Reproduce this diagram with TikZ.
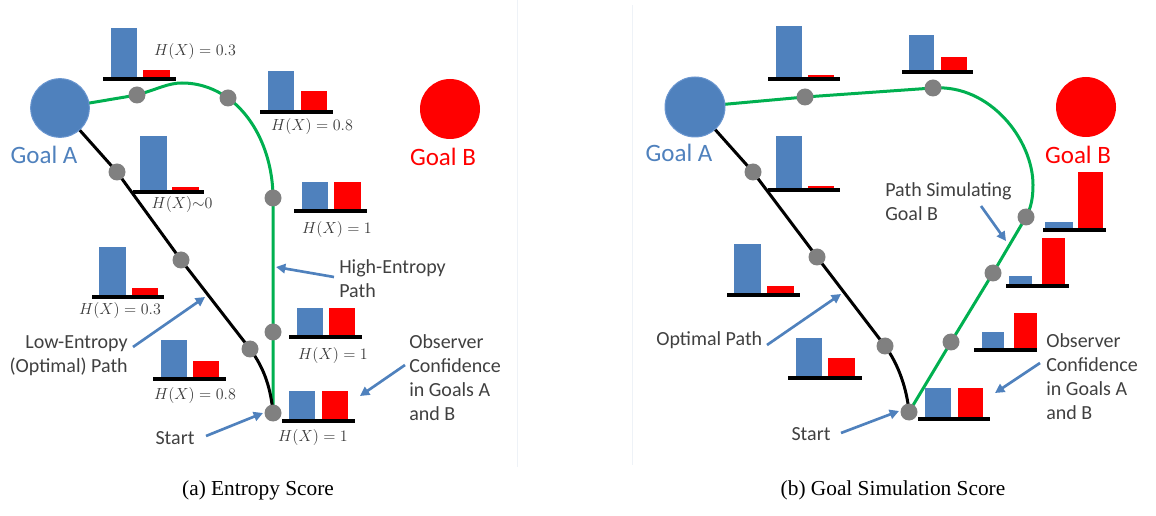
\documentclass[tikz,border=0pt]{standalone}
\usepackage{fontspec}
\setmainfont{Carlito}
\newfontfamily\capfont{Liberation Serif}
\usetikzlibrary{arrows.meta}
\definecolor{oblue}{HTML}{4F81BD}
\definecolor{oblueedge}{HTML}{6A96D0}
\definecolor{ored}{HTML}{FF0000}
\definecolor{ogreen}{HTML}{00B050}
\definecolor{ogray}{HTML}{808080}
\definecolor{otext}{HTML}{404040}
\definecolor{sepline}{HTML}{EEF2F7}
\pgfdeclarelayer{bg}
\pgfsetlayers{bg,main}
\newcommand\barsAt[9]{%
  \fill[oblue] (#4,#3) rectangle (#5,#6);
  \fill[ored] (#7,#3) rectangle (#8,#9);
  \draw[line width=2.5pt] (#1,#3) -- (#2,#3);}
\begin{document}
\begin{tikzpicture}[x=0.75pt,y=-0.75pt,
  goal/.style={circle,inner sep=0,minimum size=44pt},
  dot/.style={circle,fill=ogray,inner sep=0,minimum size=12.75pt},
  lbl/.style={font=\fontsize{15}{18}\selectfont,text=otext,inner sep=0},
  hx/.style={font=\fontsize{13}{15}\selectfont,text=black!78,inner sep=0},
  glbl/.style={font=\fontsize{18.75}{22}\selectfont,inner sep=0},
  arr/.style={draw=oblue,line width=2pt,-{Triangle[length=7pt,width=7pt]}},
  gpath/.style={draw=ogreen,line width=2.25pt},
  bpath/.style={draw=black,line width=2.25pt},
  captext/.style={font=\capfont\fontsize{16}{19}\selectfont,inner sep=0}]
\useasboundingbox (0,0) rectangle (1156,516);
% faint panel borders
\draw[sepline,line width=0.75pt] (517,0) -- (517,467);
\draw[sepline,line width=0.75pt] (632,5) -- (632,465);

% ===================== panel (a) =====================
\node[goal,fill=oblue,draw=oblueedge,line width=0.75pt] (gAa) at (60,108) {};
\node[goal,fill=ored,minimum size=45pt] (gBa) at (450,109) {};
\node[glbl,text=oblue] (tAa) at (44,155) {Goal A};
\node[glbl,text=ored] (tBa) at (443,157) {Goal B};

\coordinate (a1) at (137,95);
\coordinate (a2) at (228,98);
\coordinate (a3) at (273,198);
\coordinate (a4) at (273,332);
\coordinate (sa) at (273,413);
\coordinate (b1) at (117,172);
\coordinate (b2) at (181,260);
\coordinate (b3) at (250,349);

\begin{pgfonlayer}{bg}
\draw[gpath] (gAa.center) -- (a1) .. controls (158,89) and (168,83) .. (182,83)
  .. controls (200,83) and (215,89) .. (a2)
  .. controls (258,120) and (273,160) .. (a3) -- (a4) -- (sa);
\draw[bpath] (gAa.center) -- (b1) -- (b2) -- (b3)
  .. controls (265,369) and (271,390) .. (sa);
\end{pgfonlayer}

\foreach \p in {a1,a2,a3,a4,sa,b1,b2,b3}{\node[dot] (d\p) at (\p) {};}

\barsAt{103}{176}{79}{111}{137}{28}{143}{170}{70}
\barsAt{260}{333}{112}{268}{294}{71}{301}{327}{91}
\barsAt{294}{367}{211}{302}{328}{182}{334}{361}{182}
\barsAt{289}{362}{337}{297}{323}{308}{329}{355}{308}
\barsAt{282}{355}{421}{289}{315}{391}{322}{348}{391}
\barsAt{133}{204}{192}{140}{167}{136}{172}{199}{187}
\barsAt{92}{164}{297}{99}{126}{247}{132}{158}{288}
\barsAt{153}{226}{379}{161}{187}{340}{193}{219}{361}

\node[hx] (h1) at (195,52) {$H(X)=0.3$};
\node[hx] (h2) at (312,127) {$H(X)=0.8$};
\node[hx] (h3) at (337,230) {$H(X)=1$};
\node[hx] (h4) at (333,355) {$H(X)=1$};
\node[hx] (h5) at (313,437) {$H(X)=1$};
\node[hx] (h6) at (182,205) {$H(X){\sim}0$};
\node[hx] (h7) at (120,311) {$H(X)=0.3$};
\node[hx] (h8) at (195,395) {$H(X)=0.8$};

\node[lbl,anchor=west,align=left] (high) at (339,279) {High-Entropy\\Path};
\node[lbl,anchor=west,align=left] (obsa) at (409,378) {Observer\\Confidence\\in Goals A\\and B};
\node[lbl,anchor=east,align=right] (low) at (128,356) {Low-Entropy\\(Optimal) Path};
\node[lbl] (starta) at (175,438) {Start};

\coordinate (highS) at (334,277); \coordinate (highE) at (276,267);
\coordinate (obsaS) at (405,365); \coordinate (obsaE) at (360,396);
\coordinate (lowS) at (133,347);  \coordinate (lowE) at (205,297);
\coordinate (staS) at (206,436);  \coordinate (staE) at (263,413);
\draw[arr] (highS) -- (highE);
\draw[arr] (obsaS) -- (obsaE);
\draw[arr] (lowS) -- (lowE);
\draw[arr] (staS) -- (staE);

\node[captext] (capa) at (258,490) {(a) Entropy Score};

% ===================== panel (b) =====================
\node[goal,fill=oblue,draw=oblueedge,line width=0.75pt,minimum size=45pt] (gAb) at (695,107) {};
\node[goal,fill=ored,minimum size=45pt] (gBb) at (1086,107) {};
\node[glbl,text=oblue] (tAb) at (679,153) {Goal A};
\node[glbl,text=ored] (tBb) at (1078,155) {Goal B};

\coordinate (c1) at (805,97);
\coordinate (c2) at (933,88);
\coordinate (c3) at (1026,217);
\coordinate (c4) at (993,273);
\coordinate (c5) at (951,342);
\coordinate (sb) at (909,412);
\coordinate (e1) at (753,172);
\coordinate (e2) at (817,257);
\coordinate (e3) at (885,346);

\begin{pgfonlayer}{bg}
\draw[gpath] (gAb.center) -- (c1) -- (c2)
  .. controls (990,84) and (1033,140) .. (1033,185)
  .. controls (1033,198) and (1031,208) .. (c3) -- (c4) -- (c5) -- (sb);
\draw[bpath] (gAb.center) -- (e1) -- (e2) -- (e3)
  .. controls (899,365) and (907,390) .. (sb);
\end{pgfonlayer}

\foreach \p in {c1,c2,c3,c4,c5,sb,e1,e2,e3}{\node[dot] (d\p) at (\p) {};}

\barsAt{768}{840}{79}{776}{802}{26}{808}{834}{75}
\barsAt{902}{973}{72}{909}{934}{35}{941}{967}{57}
\barsAt{768}{840}{190}{776}{802}{136}{808}{834}{186}
\barsAt{1043}{1106}{230}{1045}{1073}{222}{1078}{1103}{172}
\barsAt{1006}{1069}{286}{1009}{1032}{276}{1042}{1065}{238}
\barsAt{974}{1037}{350}{982}{1004}{332}{1014}{1037}{313}
\barsAt{918}{990}{419}{925}{951}{388}{958}{983}{388}
\barsAt{727}{800}{295}{734}{761}{244}{767}{794}{286}
\barsAt{788}{862}{378}{796}{822}{338}{828}{855}{358}

\node[lbl,anchor=west,align=left] (sim) at (885,202) {Path Simulating\\Goal B};
\node[lbl,anchor=west] (opt) at (656,340) {Optimal Path};
\node[lbl] (startb) at (811,434) {Start};
\node[lbl,anchor=west,align=left] (obsb) at (1046,377) {Observer\\Confidence\\in Goals A\\and B};

\coordinate (simS) at (981,206);  \coordinate (simE) at (1006,241);
\coordinate (optS) at (767,345);  \coordinate (optE) at (841,294);
\coordinate (stbS) at (841,433);  \coordinate (stbE) at (899,411);
\coordinate (obsbS) at (1040,363); \coordinate (obsbE) at (995,393);
\draw[arr] (simS) -- (simE);
\draw[arr] (optS) -- (optE);
\draw[arr] (stbS) -- (stbE);
\draw[arr] (obsbS) -- (obsbE);

\node[captext] (capb) at (893,490) {(b) Goal Simulation Score};
\end{tikzpicture}
\end{document}
